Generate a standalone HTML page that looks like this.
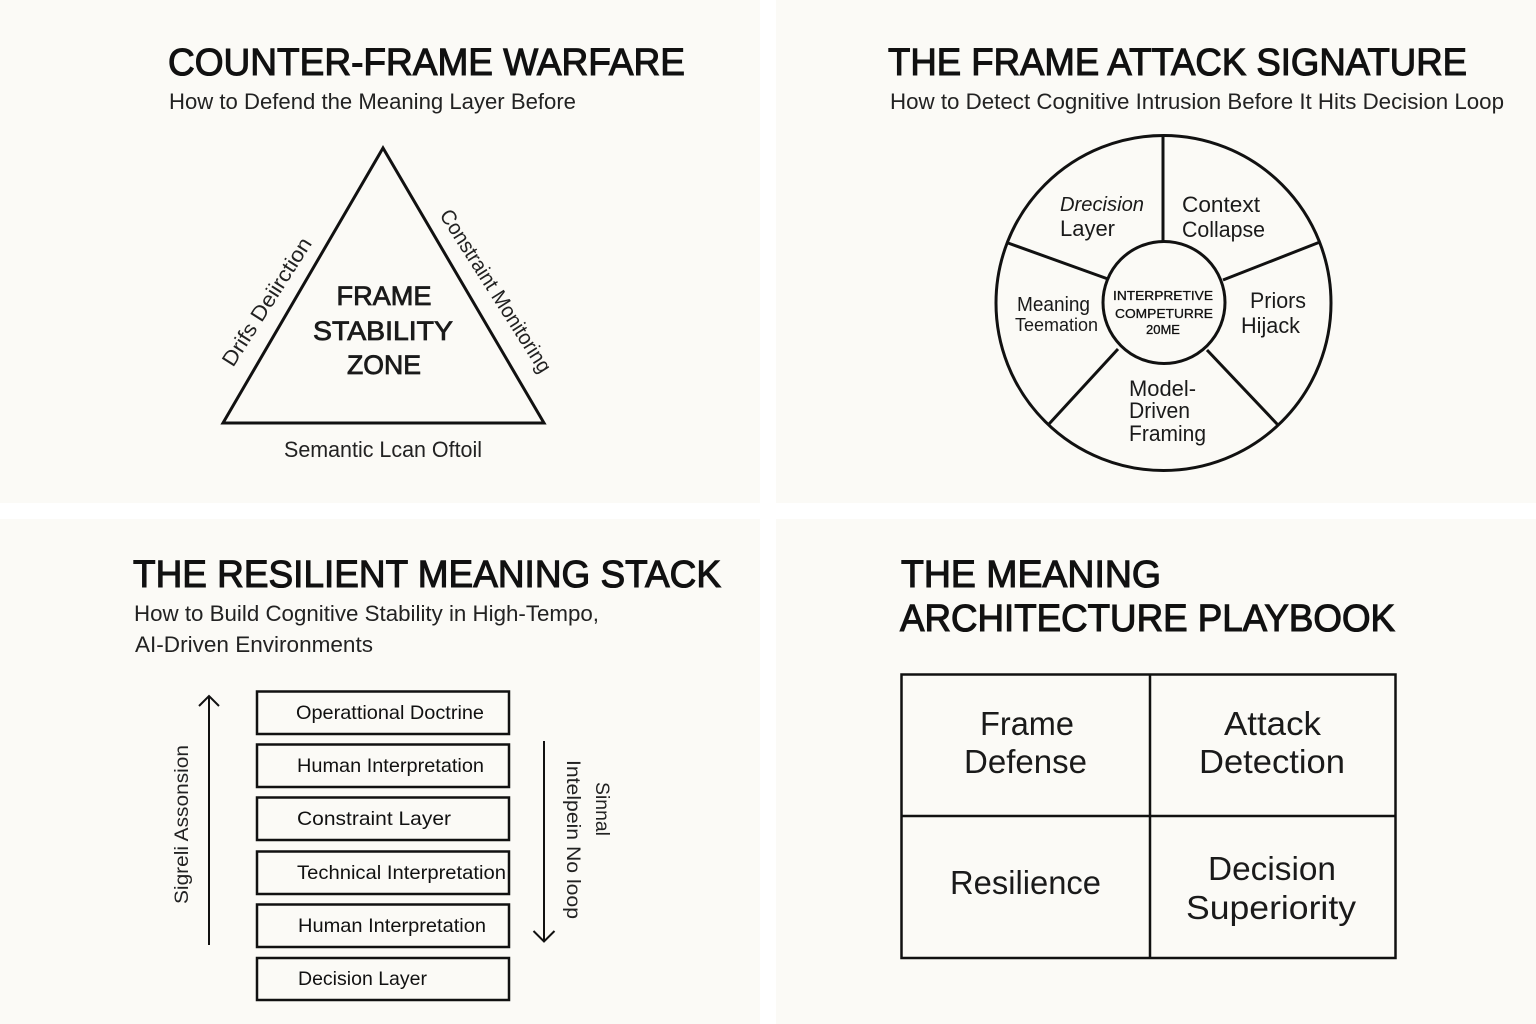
<!DOCTYPE html>
<html><head><meta charset="utf-8"><style>
html,body{margin:0;padding:0;background:#fff}
svg{display:block}
text{font-family:"Liberation Sans",sans-serif;fill:#111}
.t{font-size:38px;font-weight:normal;stroke:#111;stroke-width:1.1px}
.s{font-size:22px;fill:#222}
.b{font-size:19.5px;fill:#111}
.g{font-size:33px;fill:#1a1a1a}
.c{font-size:22px;fill:#1a1a1a}
.z{font-size:27px;stroke:#1a1a1a;stroke-width:.8px;fill:#1a1a1a}
.m{font-size:13px;fill:#111;stroke:#111;stroke-width:.3px}
</style></head><body>
<svg width="1536" height="1024" viewBox="0 0 1536 1024" xmlns="http://www.w3.org/2000/svg">
<rect width="1536" height="1024" fill="#fff"/>
<rect x="0" y="0" width="760" height="503" fill="#fbfaf6"/>
<rect x="776" y="0" width="760" height="503" fill="#fbfaf6"/>
<rect x="0" y="519" width="760" height="505" fill="#fbfaf6"/>
<rect x="776" y="519" width="760" height="505" fill="#fbfaf6"/>

<!-- Top left -->
<text class="t" x="168" y="75" textLength="517" lengthAdjust="spacingAndGlyphs">COUNTER-FRAME WARFARE</text>
<text class="s" x="169" y="109" textLength="407" lengthAdjust="spacingAndGlyphs">How to Defend the Meaning Layer Before</text>
<polygon points="383,148 223,423 544,423" fill="none" stroke="#111" stroke-width="3"/>
<text class="z" x="384" y="305" text-anchor="middle" textLength="95" lengthAdjust="spacingAndGlyphs">FRAME</text>
<text class="z" x="383" y="340" text-anchor="middle" textLength="140" lengthAdjust="spacingAndGlyphs">STABILITY</text>
<text class="z" x="384" y="374" text-anchor="middle" textLength="74" lengthAdjust="spacingAndGlyphs">ZONE</text>
<text transform="translate(233,368) rotate(-57.500)" font-size="21" textLength="148" lengthAdjust="spacingAndGlyphs" style="fill:#222">Drifs Deiirction</text>
<text transform="translate(439,215) rotate(57.500)" font-size="21" textLength="189" lengthAdjust="spacingAndGlyphs" style="fill:#222">Constraint Monitoring</text>
<text x="284" y="457" font-size="22" textLength="198" lengthAdjust="spacingAndGlyphs" style="fill:#222">Semantic Lcan Oftoil</text>

<!-- Top right -->
<text class="t" x="888" y="75" textLength="579" lengthAdjust="spacingAndGlyphs">THE FRAME ATTACK SIGNATURE</text>
<text class="s" x="890" y="109" textLength="614" lengthAdjust="spacingAndGlyphs">How to Detect Cognitive Intrusion Before It Hits Decision Loop</text>
<circle cx="1163.5" cy="303" r="167.5" fill="none" stroke="#111" stroke-width="3"/>
<circle cx="1164" cy="302.5" r="61" fill="none" stroke="#111" stroke-width="3"/>
<g stroke="#111" stroke-width="3" fill="none">
<line x1="1163" y1="137" x2="1163" y2="242"/>
<line x1="1320" y1="242" x2="1223" y2="280"/>
<line x1="1278" y1="425" x2="1207" y2="350"/>
<line x1="1049" y1="424" x2="1118" y2="349"/>
<line x1="1008" y1="243" x2="1108" y2="279"/>
</g>
<text class="c" x="1060" y="211" font-style="italic" textLength="84" lengthAdjust="spacingAndGlyphs" style="font-size:20px">Drecision</text>
<text class="c" x="1060" y="236" textLength="55" lengthAdjust="spacingAndGlyphs">Layer</text>
<text class="c" x="1182" y="212" textLength="78" lengthAdjust="spacingAndGlyphs">Context</text>
<text class="c" x="1182" y="237" textLength="83" lengthAdjust="spacingAndGlyphs">Collapse</text>
<text class="c" x="1250" y="308" textLength="56" lengthAdjust="spacingAndGlyphs">Priors</text>
<text class="c" x="1241" y="333" textLength="59" lengthAdjust="spacingAndGlyphs">Hijack</text>
<text class="c" x="1017" y="311" style="font-size:20px" textLength="73" lengthAdjust="spacingAndGlyphs">Meaning</text>
<text class="c" x="1015" y="331" style="font-size:18px" textLength="83" lengthAdjust="spacingAndGlyphs">Teemation</text>
<text class="c" x="1129" y="396" textLength="67" lengthAdjust="spacingAndGlyphs">Model-</text>
<text class="c" x="1129" y="418" textLength="61" lengthAdjust="spacingAndGlyphs">Driven</text>
<text class="c" x="1129" y="441" textLength="77" lengthAdjust="spacingAndGlyphs">Framing</text>
<text class="m" x="1113" y="300" textLength="100" lengthAdjust="spacingAndGlyphs">INTERPRETIVE</text>
<text class="m" x="1115" y="318" textLength="98" lengthAdjust="spacingAndGlyphs">COMPETURRE</text>
<text class="m" x="1146" y="334" textLength="34" lengthAdjust="spacingAndGlyphs">20ME</text>

<!-- Bottom left -->
<text class="t" x="133" y="587" textLength="588" lengthAdjust="spacingAndGlyphs">THE RESILIENT MEANING STACK</text>
<text class="s" x="134" y="621" textLength="465" lengthAdjust="spacingAndGlyphs">How to Build Cognitive Stability in High-Tempo,</text>
<text class="s" x="135" y="652" textLength="238" lengthAdjust="spacingAndGlyphs">AI-Driven Environments</text>
<g fill="none" stroke="#111" stroke-width="2.5">
<rect x="257" y="691.5" width="252" height="42.5"/>
<rect x="257" y="744.5" width="252" height="42.5"/>
<rect x="257" y="797.5" width="252" height="42.5"/>
<rect x="257" y="851.5" width="252" height="42.5"/>
<rect x="257" y="904.5" width="252" height="42.5"/>
<rect x="257" y="958" width="252" height="42"/>
</g>
<text class="b" x="296" y="719" textLength="188" lengthAdjust="spacingAndGlyphs">Operattional Doctrine</text>
<text class="b" x="297" y="772" textLength="187" lengthAdjust="spacingAndGlyphs">Human Interpretation</text>
<text class="b" x="297" y="825" textLength="154" lengthAdjust="spacingAndGlyphs">Constraint Layer</text>
<text class="b" x="297" y="879" textLength="209" lengthAdjust="spacingAndGlyphs">Technical Interpretation</text>
<text class="b" x="298" y="932" textLength="188" lengthAdjust="spacingAndGlyphs">Human Interpretation</text>
<text class="b" x="298" y="985" textLength="129" lengthAdjust="spacingAndGlyphs">Decision Layer</text>
<g fill="none" stroke="#111" stroke-width="2">
<path d="M209 945V696M199 706L209 696L219 706"/>
<path d="M544 741V941M533.500 931L544 941.500L554.500 931"/>
</g>
<text transform="translate(188,904) rotate(-90)" font-size="19.500" textLength="159" lengthAdjust="spacingAndGlyphs" style="fill:#222">Sigreli Assonsion</text>
<text transform="translate(567,760) rotate(90)" font-size="19.500" textLength="159" lengthAdjust="spacingAndGlyphs" style="fill:#222">Intelpein No loop</text>
<text transform="translate(596,782) rotate(90)" font-size="19.500" textLength="54" lengthAdjust="spacingAndGlyphs" style="fill:#222">Sinnal</text>

<!-- Bottom right -->
<text class="t" x="901" y="587" textLength="260" lengthAdjust="spacingAndGlyphs">THE MEANING</text>
<text class="t" x="900" y="631" textLength="495" lengthAdjust="spacingAndGlyphs">ARCHITECTURE PLAYBOOK</text>
<g fill="none" stroke="#111" stroke-width="2.500">
<rect x="901.500" y="674.500" width="494" height="283.500"/>
<line x1="1150" y1="674" x2="1150" y2="958"/>
<line x1="901" y1="816" x2="1396" y2="816"/>
</g>
<text class="g" x="980" y="735" textLength="94" lengthAdjust="spacingAndGlyphs">Frame</text>
<text class="g" x="964" y="773" textLength="123" lengthAdjust="spacingAndGlyphs">Defense</text>
<text class="g" x="1224" y="735" textLength="97" lengthAdjust="spacingAndGlyphs">Attack</text>
<text class="g" x="1199" y="773" textLength="146" lengthAdjust="spacingAndGlyphs">Detection</text>
<text class="g" x="950" y="894" textLength="151" lengthAdjust="spacingAndGlyphs">Resilience</text>
<text class="g" x="1208" y="880" textLength="128" lengthAdjust="spacingAndGlyphs">Decision</text>
<text class="g" x="1186" y="919" textLength="170" lengthAdjust="spacingAndGlyphs">Superiority</text>
</svg>
</body></html>
